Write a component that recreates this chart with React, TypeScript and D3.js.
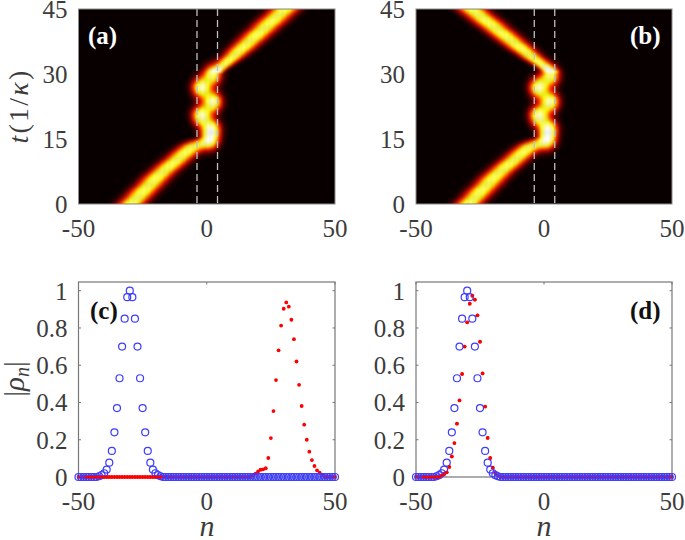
import React from "react";
import * as d3 from "d3";

const W = 685, H = 540;
const xTicks = [-50, 0, 50];
const heatYTicks = [0, 15, 30, 45];
const lineYTicks = [0, 0.2, 0.4, 0.6, 0.8, 1];
const allN = d3.range(-50, 51);

// ridge centre of the incoming packet, t = 0, 0.5, ... 15
const inCentres = [-29.5,-28.7,-27.9,-27.0,-26.2,-25.4,-24.6,-23.8,-22.9,-22.1,-21.3,-20.5,-19.7,-18.8,-18.0,-17,-16,-15,-14,-13,-12,-11,-10,-9,-8,-7,-6,-5,-4,-3,-2];
// ridge centre of the outgoing packet, t = 30.5, 31, ... 45
const outCentresA = [3.8,4.7,5.6,6.6,7.5,8.4,9.3,10.3,11.2,12.1,13.0,14.0,14.9,15.8,16.7,17.7,18.6,19.5,20.4,21.4,22.3,23.2,24.1,25.1,26.0,26.9,27.8,28.8,29.7,30.6];
const outCentresB = [2.8,1.7,0.7,-0.4,-1.5,-2.5,-3.6,-4.7,-5.7,-6.8,-7.9,-9.0,-10.0,-11.1,-12.2,-13.2,-14.3,-15.4,-16.4,-17.5,-18.6,-19.7,-20.7,-21.8,-22.9,-23.9,-25.0,-26.1,-27.1,-28.2];
const outWidths = [1.5,1.7,1.9,2.1,2.3,2.5,2.7,2.8,2.9,3.0,3.1,3.2,3.2,3.3,3.3,3.4,3.4,3.4,3.5,3.5,3.5,3.5,3.6,3.6,3.6,3.6,3.6,3.6,3.6,3.6];
// bright lobes in the waveguide: [n, t, amplitude]
const lobesA = [[2.3,29.8,0.78],[-2,26.9,0.9],[2.4,23.6,0.9],[-2,20.4,0.9],[1.8,17.3,0.85],[1.2,14.8,0.7]];
const lobesB = [[2.6,29.6,0.78],[-2,26.9,0.9],[2.4,23.6,0.9],[-2,20.4,0.9],[1.8,17.3,0.85],[1.2,14.8,0.7]];

// non-zero values of |rho_n|: [n, value]
const bluePeak: number[][] = [[-30,1],[-29,.965],[-31,.965],[-28,.85],[-32,.85],[-27,.70],[-33,.70],[-26,.53],[-34,.53],[-25,.37],[-35,.37],[-24,.24],[-36,.24],[-23,.14],[-37,.14],[-22,.077],[-38,.077],[-21,.04],[-39,.04],[-20,.02],[-40,.02],[-19,.01],[-41,.01],[-18,.004],[-42,.004]];
const redC: number[][] = [[18,.009],[19,.018],[20,.03],[21,.039],[22,.041],[23,.047],[24,.102],[25,.209],[26,.354],[27,.52],[28,.68],[29,.813],[30,.903],[31,.937],[32,.914],[33,.844],[34,.74],[35,.62],[36,.495],[37,.381],[38,.281],[39,.2],[40,.136],[41,.091],[42,.059],[43,.036],[44,.023],[45,.012]];
const redD: number[][] = [[-40,.008],[-39,.016],[-38,.025],[-37,.054],[-36,.11],[-35,.182],[-34,.286],[-33,.411],[-32,.553],[-31,.70],[-30,.83],[-29,.93],[-28,.973],[-27,.952],[-26,.868],[-25,.726],[-24,.556],[-23,.378],[-22,.21],[-21,.102],[-20,.05],[-19,.02],[-18,.01]];

const hot = d3.scaleLinear<string>().domain([0, 0.06, 0.3, 0.6, 1]).range(["#080000", "#300000", "#ff1000", "#ffff00", "#ffffff"]).clamp(true);
const serif = "'Liberation Serif', serif";
const tickCol = "#3c3c3c";

function cellValue(n: number, t: number, out: number[], lobes: number[][]) {
  let v = 0;
  const g = (d: number, s: number) => Math.exp(-(d * d) / (2 * s * s));
  if (t <= 15) {
    const c = inCentres[Math.round(t * 2)];
    const amp = t > 13.5 ? 0.76 * (15.5 - t) / 2 : 0.76;
    v += amp * g(n - c, 3.4);
  }
  if (t >= 30.5) {
    const i = Math.round((t - 30.5) * 2);
    v += 0.76 * g(n - out[i], outWidths[i]);
  }
  for (const [ln, lt, a] of lobes) v += a * g(n - ln, 2.3) * g(t - lt, 1.5);
  return Math.min(v, 1);
}

function Heat({ x0, x1, out, lobes, id }: any) {
  const x = d3.scaleLinear().domain([-50, 50]).range([x0, x1]);
  const y = d3.scaleLinear().domain([0, 45]).range([204, 9]);
  const ts = d3.range(0, 45.5, 0.5);
  const cw = x(1) - x(0) + 0.3, ch = y(0) - y(0.5) + 0.3;
  return (
    <g>
      <clipPath id={id}><rect x={x0} y={9} width={x1 - x0} height={195} /></clipPath>
      <rect x={x0} y={9} width={x1 - x0} height={195} fill={hot(0)} />
      <g clipPath={`url(#${id})`}>
        <g filter="url(#softHeat)">
          {ts.flatMap((t) =>
            allN.map((n) => {
              const v = cellValue(n, t, out, lobes);
              return v < 0.02 ? null : (
                <rect key={`${t}_${n}`} x={x(n) - cw / 2} y={y(t) - ch / 2} width={cw} height={ch} fill={hot(v)} />
              );
            })
          )}
        </g>
      </g>
      {[-4, 4].map((n) => (
        <line key={n} x1={x(n) + 0.5} x2={x(n) + 0.5} y1={9} y2={204} stroke="#c0c0c0" strokeWidth={1.3} strokeDasharray="7 4" />
      ))}
      <rect x={x0} y={9} width={x1 - x0} height={195} fill="none" stroke="#8c8c8c" strokeWidth={1} />
      {xTicks.map((v) => (
        <text key={v} x={x(v)} y={237} textAnchor="middle" fontFamily={serif} fontSize={25} fill={tickCol}>{v}</text>
      ))}
      {heatYTicks.map((v) => (
        <text key={v} x={x0 - 11} y={y(v) + 9} textAnchor="end" fontFamily={serif} fontSize={25} fill={tickCol}>{v}</text>
      ))}
    </g>
  );
}

function Line({ x0, x1, red, redOver }: any) {
  const x = d3.scaleLinear().domain([-50, 50]).range([x0, x1]);
  const y = d3.scaleLinear().domain([0, 1]).range([477, 290.7]);
  const look = (arr: number[][], n: number) => (arr.find((d) => d[0] === n) || [n, 0])[1];
  return (
    <g>
      <rect x={x0} y={282} width={x1 - x0} height={195} fill="none" stroke="#777" strokeWidth={1.2} />
      {lineYTicks.map((v) => (
        <g key={v}>
          <line x1={x0} x2={x0 + 2.5} y1={y(v)} y2={y(v)} stroke="#777" />
          <line x1={x1} x2={x1 - 2.5} y1={y(v)} y2={y(v)} stroke="#777" />
          <text x={x0 - 11} y={y(v) + 9} textAnchor="end" fontFamily={serif} fontSize={25} fill={tickCol}>{v}</text>
        </g>
      ))}
      {xTicks.map((v) => (
        <g key={v}>
          <line x1={x(v)} x2={x(v)} y1={477} y2={474.5} stroke="#777" />
          <line x1={x(v)} x2={x(v)} y1={282} y2={284.5} stroke="#777" />
          <text x={x(v)} y={510} textAnchor="middle" fontFamily={serif} fontSize={25} fill={tickCol}>{v}</text>
        </g>
      ))}
      <g filter="url(#soft)">
        {allN.map((n) => (
          <circle key={n} cx={x(n)} cy={y(look(red, n))} r={1.9} fill="#ff0000" />
        ))}
        {allN.map((n) => (
          <circle key={n} cx={x(n)} cy={y(look(bluePeak, n))} r={3.5} fill="none" stroke="#3c3cff" strokeWidth={1.2} />
        ))}
        {allN.filter((n) => redOver[0] <= n && n <= redOver[1]).map((n) => (
          <circle key={n} cx={x(n)} cy={y(look(red, n))} r={1.6} fill="#ff0000" />
        ))}
      </g>
    </g>
  );
}

function PanelLabel({ x, y, text, fill }: any) {
  return <text x={x} y={y} fontFamily={serif} fontWeight="bold" fontSize={25} fill={fill}>{text}</text>;
}

export default function App() {
  return (
    <svg width={W} height={H} viewBox={`0 0 ${W} ${H}`} style={{ position: "absolute", left: 0, top: 0, background: "#fff" }}>
      <defs>
        <filter id="soft" x="-5%" y="-5%" width="110%" height="110%" colorInterpolationFilters="sRGB">
          <feGaussianBlur stdDeviation={0.6} />
        </filter>
        <filter id="softHeat" x="-5%" y="-5%" width="110%" height="110%" colorInterpolationFilters="sRGB">
          <feGaussianBlur stdDeviation={0.9} />
        </filter>
      </defs>
      <Heat x0={78.5} x1={335} out={outCentresA} lobes={lobesA} id="ca" />
      <Heat x0={416} x1={672} out={outCentresB} lobes={lobesB} id="cb" />
      <Line x0={78.5} x1={335} red={redC} redOver={[-47, -18]} />
      <Line x0={416} x1={672} red={redD} redOver={[-47, -20]} />
      <PanelLabel x={88} y={44} text="(a)" fill="#fff" />
      <PanelLabel x={630} y={44} text="(b)" fill="#fff" />
      <PanelLabel x={90} y={319} text="(c)" fill="#111" />
      <PanelLabel x={630} y={319} text="(d)" fill="#111" />
      <text transform="translate(28,106) rotate(-90)" textAnchor="middle" fontFamily={serif} fontSize={28} letterSpacing={2.2} fill={tickCol}>
        <tspan fontStyle="italic">t</tspan>(1/<tspan fontStyle="italic">κ</tspan>)
      </text>
      <text transform="translate(24,379) rotate(-90)" textAnchor="middle" fontFamily={serif} fontSize={29} fill={tickCol}>
        |<tspan fontStyle="italic">ρ</tspan><tspan fontStyle="italic" fontSize={20} dy={5}>n</tspan><tspan dy={-5}>|</tspan>
      </text>
      <text x={207} y={536} textAnchor="middle" fontFamily={serif} fontStyle="italic" fontSize={30} fill={tickCol}>n</text>
      <text x={544} y={536} textAnchor="middle" fontFamily={serif} fontStyle="italic" fontSize={30} fill={tickCol}>n</text>
    </svg>
  );
}
